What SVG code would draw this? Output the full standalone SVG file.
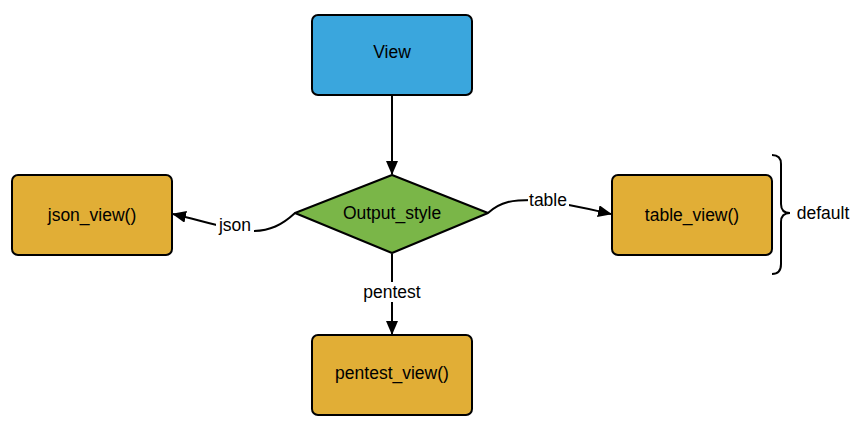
<svg xmlns="http://www.w3.org/2000/svg" width="858" height="429" viewBox="0 0 858 429">
<defs>
<style>
.box{stroke:#000;stroke-width:2}
.fn{fill:#e1ae36}
.t{font-family:"Liberation Sans",Arial,sans-serif;font-size:17.5px;fill:#000;text-anchor:middle;dominant-baseline:central}
.c{fill:none;stroke:#000;stroke-width:2}
.lbl{fill:#fff}
</style>
<marker id="ah" markerWidth="14" markerHeight="12" refX="13" refY="6" orient="auto" markerUnits="userSpaceOnUse">
<path d="M0,0 L14,6 L0,12 Z" fill="#000"/>
</marker>
</defs>
<rect width="858" height="429" fill="#fff"/>
<g id="connectors">
<path class="c" d="M392,95 L392,174" marker-end="url(#ah)"/>
<path class="c" d="M392,254 L392,334" marker-end="url(#ah)"/>
<rect class="lbl" x="360" y="282" width="64" height="20"/>
<text class="t" x="392" y="292">pentest</text>
<path class="c" d="M295,213 C282,225 270,231 252,231 C232,231 200,220 173,214" marker-end="url(#ah)"/>
<rect class="lbl" x="216" y="215" width="38" height="20"/>
<text class="t" x="235" y="225">json</text>
<path class="c" d="M488,213 C501,201 514,200 532,200 C552,200 584,208 611,214" marker-end="url(#ah)"/>
<rect class="lbl" x="528" y="190" width="41" height="20"/>
<text class="t" x="548" y="200">table</text>
</g>
<g id="view">
<rect class="box" x="312" y="15" width="160" height="80" rx="6" fill="#3aa6dd"/>
<text class="t" x="392" y="52">View</text>
</g>
<g id="output_style">
<path class="box" d="M392,175 L488,213 L392,253 L295,213 Z" fill="#7ab648" stroke-linejoin="round"/>
<text class="t" x="392" y="213">Output_style</text>
</g>
<g id="json_view">
<rect class="box fn" x="12" y="175" width="160" height="80" rx="6"/>
<text class="t" x="92" y="215">json_view()</text>
</g>
<g id="table_view">
<rect class="box fn" x="612" y="175" width="160" height="80" rx="6"/>
<text class="t" x="692" y="215">table_view()</text>
</g>
<g id="pentest_view">
<rect class="box fn" x="312" y="335" width="160" height="80" rx="6"/>
<text class="t" x="392" y="373">pentest_view()</text>
</g>
<g id="default_brace">
<path class="c" d="M772,155 Q781,155 781,164 L781,204 Q781,213 790,213 Q781,213 781,222 L781,264 Q781,274 772,274"/>
<text class="t" x="823" y="213">default</text>
</g>
</svg>
